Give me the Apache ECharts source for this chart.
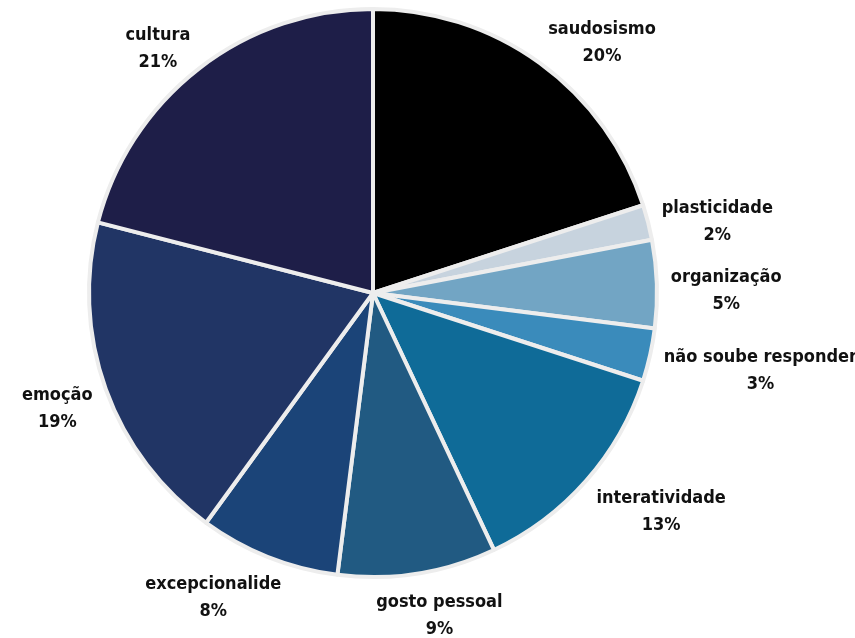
<!DOCTYPE html>
<html>
<head>
<meta charset="utf-8">
<script src="https://cdn.jsdelivr.net/npm/echarts@6/dist/echarts.min.js"></script>
<style>
  html, body { margin: 0; padding: 0; background: #fff; }
  #chart { width: 855px; height: 638px; }
</style>
</head>
<body>
<div id="chart"></div>
<script>
var categories = ['saudosismo', 'plasticidade', 'organização', 'não soube responder', 'interatividade', 'gosto pessoal', 'excepcionalide', 'emoção', 'cultura'];
var values = [20, 2, 5, 3, 13, 9, 8, 19, 21];
var colors = ['#000000', '#c7d3de', '#72a5c4', '#3a8bbb', '#0f6b98', '#215a82', '#1b4478', '#213565', '#1e1e48'];

(function(){
    var myChart = echarts.init(document.getElementById('chart'));

    var cx = 373, cy = 293, R = 284;
    var total = values.reduce(function(a, b){ return a + b; }, 0);

    // mid angle of each slice, clockwise from 12 o'clock
    var midAngle = [];
    var acc = 0;
    values.forEach(function(v){
        midAngle.push((acc + v / 2) / total * Math.PI * 2);
        acc += v;
    });

    var data = categories.map(function(name, i){
        return { name: name, value: values[i], itemStyle: { color: colors[i] } };
    });

    var option = {
        animation: false,
        series: [
            {
                type: 'pie',
                center: [cx, cy],
                radius: R,
                startAngle: 90,
                clockwise: true,
                avoidLabelOverlap: false,
                itemStyle: {
                    borderColor: '#ededed',
                    borderWidth: 4
                },
                label: {
                    show: true,
                    position: 'outside',
                    formatter: '{b}\n{c}%',
                    color: '#111111',
                    fontFamily: '"DejaVu Sans Condensed", sans-serif',
                    fontWeight: 'bold',
                    fontSize: 18,
                    lineHeight: 27
                },
                labelLine: {
                    show: false,
                    length: 10,
                    length2: 0
                },
                // centre each two-line label just outside its slice
                labelLayout: function(params){
                    var a = midAngle[params.dataIndex];
                    var s = Math.sin(a), c = Math.cos(a);
                    var hw = params.labelRect.width / 2;
                    var hh = params.labelRect.height / 2;
                    var sx = (s >= 0 ? 1 : -1) * Math.min(1, 2 * Math.abs(s));
                    return {
                        x: cx + (R + 14) * s + hw * sx,
                        y: cy - (R + 12) * c - hh * c * 0.85 + 8,
                        align: 'center',
                        verticalAlign: 'middle'
                    };
                },
                data: data
            }
        ]
    };

    myChart.setOption(option);
})();
</script>
</body>
</html>
